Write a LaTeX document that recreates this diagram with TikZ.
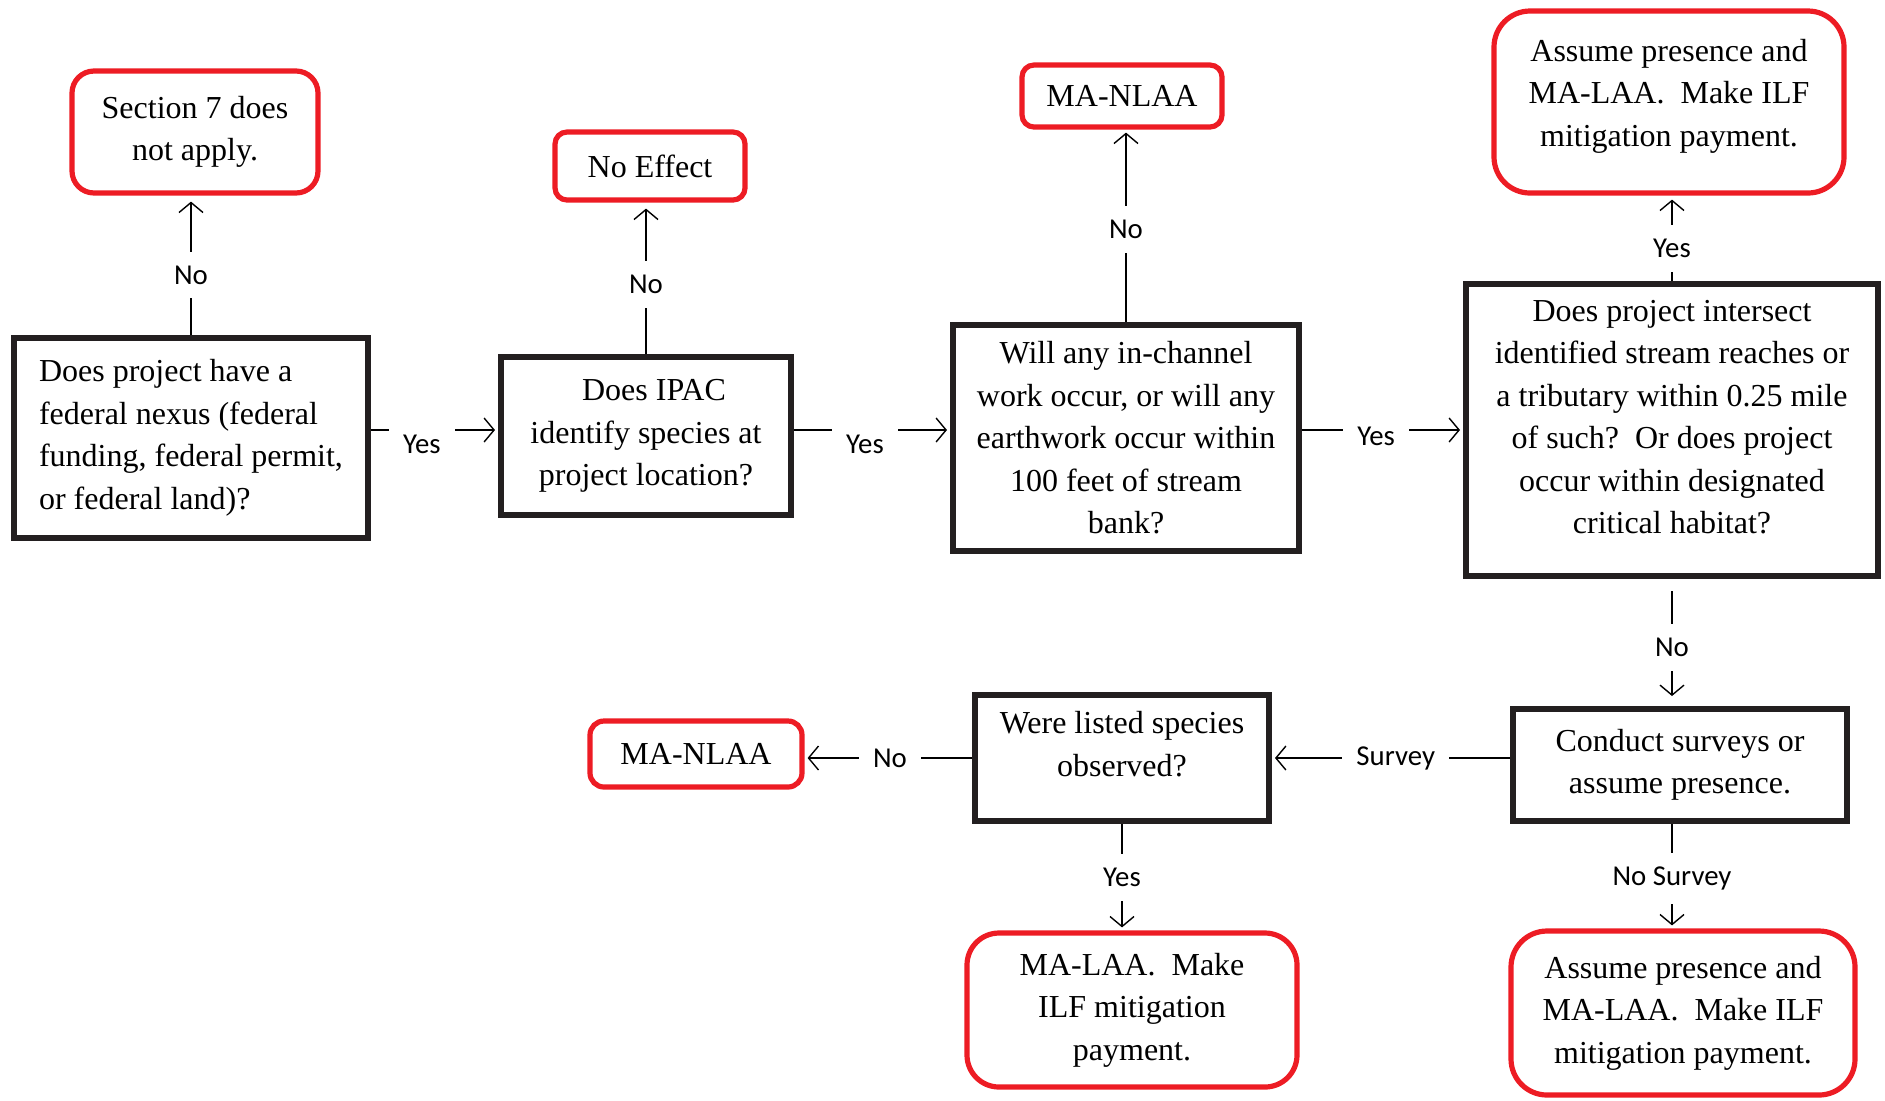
\documentclass[tikz,border=0pt]{standalone}
\usepackage{fontspec}
\setmainfont{Liberation Serif}
\newfontfamily\lblfont{Carlito}
\usetikzlibrary{arrows.meta}
\definecolor{boxred}{RGB}{237,28,36}
\definecolor{boxblack}{RGB}{35,31,32}

\begin{document}
\begin{tikzpicture}[x=0.5pt,y=-0.5pt,
  qbox/.style={draw=boxblack,line width=3pt,align=center,inner sep=0pt,font=\fontsize{16}{21.25}\selectfont},
  rbox/.style={draw=boxred,line width=2.6pt,rounded corners=#1,align=center,inner sep=0pt,font=\fontsize{16}{21.25}\selectfont},
  rbox/.default=8pt,
  lbl/.style={fill=white,font=\lblfont\fontsize{14.4}{16}\selectfont,inner xsep=7pt,inner ysep=7pt},
  arr/.style={-{Straight Barb[length=5pt,width=12pt,line width=0.7pt]},line width=0.7pt,shorten >=1.5pt},
  ]
\useasboundingbox (0,0) rectangle (1885,1100);

% questions
\node[qbox,minimum width=177pt,minimum height=100pt,align=left] (nexus) at (191,438) {Does project have a\\ federal nexus (federal\\ funding, federal permit,\\ or federal land)?};
\node[qbox,minimum width=145pt,minimum height=79pt] (ipac) at (646,436) {\hspace*{8pt}Does IPAC\\ identify species at\\ project location?};
\node[qbox,minimum width=173pt,minimum height=113pt] (inchan) at (1126,438) {Will any in-channel\\ work occur, or will any\\ earthwork occur within\\ 100 feet of stream\\ bank?};
\node[qbox,minimum width=206pt,minimum height=146pt,text depth=13pt] (reach) at (1672,430) {Does project intersect\\ identified stream reaches or\\ a tributary within 0.25 mile\\ of such?~~Or does project\\ occur within designated\\ critical habitat?};
\node[qbox,minimum width=167pt,minimum height=56pt] (survey) at (1680,765) {Conduct surveys or\\ assume presence.};
\node[qbox,minimum width=147pt,minimum height=63pt,text depth=14pt] (listed) at (1122,758) {Were listed species\\ observed?};

% outcomes
\node[rbox=11pt,minimum width=123pt,minimum height=61pt] (sec7) at (195,132) {Section 7 does\\ not apply.};
\node[rbox=6pt,minimum width=95pt,minimum height=34pt] (noeff) at (650,166) {No Effect};
\node[rbox=6pt,minimum width=100pt,minimum height=31pt] (nlaatop) at (1122,96) {MA-NLAA};
\node[rbox=18pt,minimum width=175pt,minimum height=91pt,text depth=9.5pt] (laatop) at (1669,102) {Assume presence and\\ MA-LAA.~~Make ILF\\ mitigation payment.};
\node[rbox=7pt,minimum width=106pt,minimum height=33pt] (nlaabot) at (696,754) {MA-NLAA};
\node[rbox=16pt,minimum width=165pt,minimum height=77pt] (laamid) at (1132,1010) {MA-LAA.~~Make\\ ILF mitigation\\ payment.};
\node[rbox=18pt,minimum width=172pt,minimum height=82pt] (laabot) at (1683,1013) {Assume presence and\\ MA-LAA.~~Make ILF\\ mitigation payment.};

% connectors
\draw[arr,shorten >=3pt] (nexus.north) -- node[lbl,pos=0.43]{No} (nexus.north |- sec7.south);
\draw[arr,shorten >=3pt] (ipac.north) -- node[lbl,pos=0.46]{No} (ipac.north |- noeff.south);
\draw[arr] (inchan.north) -- node[lbl,pos=0.48]{No} (inchan.north |- nlaatop.south);
\draw[arr,shorten >=2pt] (reach.north) -- node[lbl,pos=0.38]{Yes} (reach.north |- laatop.south);

\draw[arr] (nexus.east |- reach.west) -- node[lbl,pos=0.4,yshift=-7pt]{Yes} (ipac.west |- reach.west);
\draw[arr] (ipac.east |- reach.west) -- node[lbl,pos=0.455,yshift=-7pt]{Yes} (inchan.west |- reach.west);
\draw[arr] (inchan.east |- reach.west) -- node[lbl,pos=0.46,yshift=-3pt]{Yes} (reach.west);

\draw[arr,shorten <=6pt,shorten >=5pt] (reach.south) -- node[lbl,pos=0.54]{No} (reach.south |- survey.north);
\draw[arr] (survey.west |- listed.east) -- node[lbl,pos=0.48]{Survey} (listed.east);
\draw[arr] (listed.west) -- node[lbl,pos=0.49]{No} (listed.west -| nlaabot.east);
\draw[arr] (listed.south) -- node[lbl,pos=0.5]{Yes} (listed.south |- laamid.north);
\draw[arr] (survey.south -| reach.south) -- node[lbl,pos=0.52]{No Survey} (reach.south |- laabot.north);
\end{tikzpicture}
\end{document}
